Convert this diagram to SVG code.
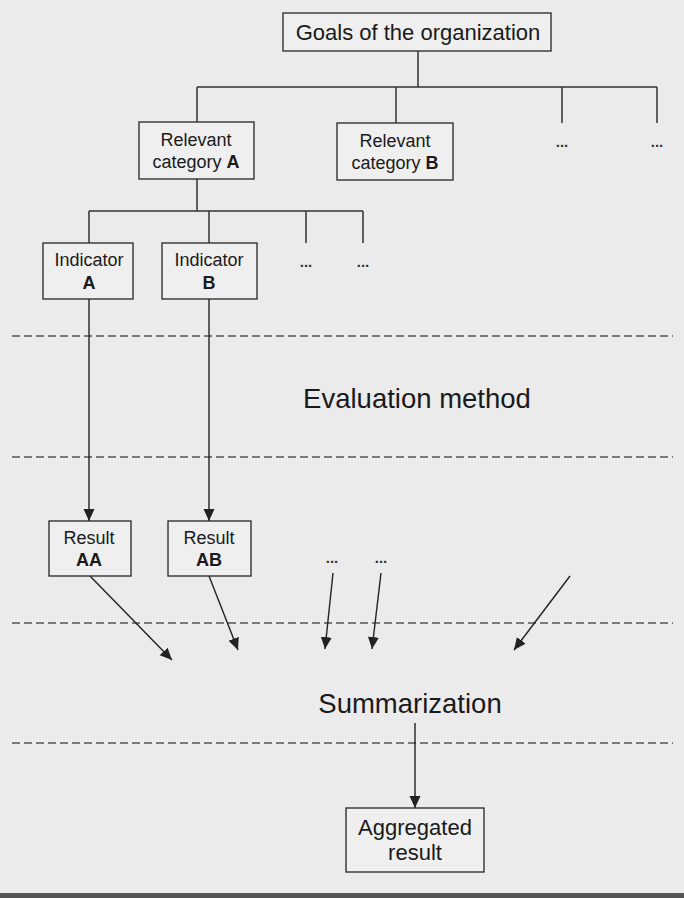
<svg xmlns="http://www.w3.org/2000/svg" width="684" height="898" viewBox="0 0 684 898">
<style>
.box{fill:#efefef;stroke:#333;stroke-width:1.4}
.t{font-family:"Liberation Sans",Arial,sans-serif;fill:#1a1a1a;text-anchor:middle}
.s18{font-size:18px}
.s22{font-size:22px}
.s27{font-size:27.5px}
.b{font-weight:bold}
.ln{fill:none;stroke:#333;stroke-width:1.5}
.ar{fill:none;stroke:#222;stroke-width:1.4;marker-end:url(#ah)}
.dash{fill:none;stroke:#555;stroke-width:1.5;stroke-dasharray:8 4}
.dots{font-family:"Liberation Sans",Arial,sans-serif;font-size:15px;font-weight:bold;fill:#333;text-anchor:middle}
</style>
<defs>
<marker id="ah" markerUnits="userSpaceOnUse" markerWidth="13" markerHeight="12" refX="12" refY="5.5" orient="auto">
<path d="M0,0 L12,5.5 L0,11 z" fill="#222"/>
</marker>
</defs>
<rect width="684" height="898" fill="#ebebeb"/>
<rect x="0" y="893" width="684" height="5" fill="#555"/>

<g id="separators">
<line class="dash" x1="12" y1="336" x2="673" y2="336"/>
<line class="dash" x1="12" y1="457" x2="673" y2="457"/>
<line class="dash" x1="12" y1="623" x2="673" y2="623"/>
<line class="dash" x1="12" y1="743" x2="673" y2="743"/>
</g>

<g id="connectors">
<path class="ln" d="M418 51 V87 M197 87 H657 M197 87 V122 M396 87 V123 M562 87 V123 M657 87 V123"/>
<path class="ln" d="M197 179 V211 M89 211 H363 M89 211 V243 M209 211 V243 M306 211 V243 M363 211 V243"/>
<line class="ar" x1="89" y1="299" x2="89" y2="521"/>
<line class="ar" x1="209" y1="299" x2="209" y2="521"/>
<line class="ar" x1="90" y1="576" x2="172" y2="660"/>
<line class="ar" x1="209" y1="576" x2="238" y2="650"/>
<line class="ar" x1="333" y1="573" x2="325" y2="649"/>
<line class="ar" x1="381" y1="573" x2="372" y2="649"/>
<line class="ar" x1="570" y1="576" x2="514" y2="650"/>
<line class="ar" x1="415" y1="723" x2="415" y2="808"/>
</g>

<g id="goals">
<rect class="box" x="283" y="13" width="268" height="38"/>
<text class="t s22" x="418" y="40">Goals of the organization</text>
</g>

<g id="catA">
<rect class="box" x="139" y="122" width="115" height="57"/>
<text class="t s18" x="196" y="146">Relevant</text>
<text class="t s18" x="196" y="168">category <tspan class="b">A</tspan></text>
</g>

<g id="catB">
<rect class="box" x="337" y="123" width="116" height="57"/>
<text class="t s18" x="395" y="147">Relevant</text>
<text class="t s18" x="395" y="169">category <tspan class="b">B</tspan></text>
</g>

<g id="catMore1"><text class="dots" x="562" y="147">...</text></g>
<g id="catMore2"><text class="dots" x="657" y="147">...</text></g>

<g id="indA">
<rect class="box" x="43" y="243" width="90" height="56"/>
<text class="t s18" x="89" y="266">Indicator</text>
<text class="t s18 b" x="89" y="289">A</text>
</g>

<g id="indB">
<rect class="box" x="162" y="243" width="95" height="56"/>
<text class="t s18" x="209" y="266">Indicator</text>
<text class="t s18 b" x="209" y="289">B</text>
</g>

<g id="indMore1"><text class="dots" x="306" y="267">...</text></g>
<g id="indMore2"><text class="dots" x="363" y="267">...</text></g>

<g id="evalLabel">
<text class="t s27" x="417" y="408">Evaluation method</text>
</g>

<g id="resAA">
<rect class="box" x="49" y="521" width="82" height="55"/>
<text class="t s18" x="89" y="544">Result</text>
<text class="t s18 b" x="89" y="566">AA</text>
</g>

<g id="resAB">
<rect class="box" x="168" y="521" width="83" height="55"/>
<text class="t s18" x="209" y="544">Result</text>
<text class="t s18 b" x="209" y="566">AB</text>
</g>

<g id="resMore1"><text class="dots" x="332" y="563">...</text></g>
<g id="resMore2"><text class="dots" x="381" y="563">...</text></g>

<g id="sumLabel">
<text class="t s27" x="410" y="713">Summarization</text>
</g>

<g id="aggregated">
<rect class="box" x="346" y="808" width="138" height="64"/>
<text class="t s22" x="415" y="835">Aggregated</text>
<text class="t s22" x="415" y="860">result</text>
</g>
</svg>
